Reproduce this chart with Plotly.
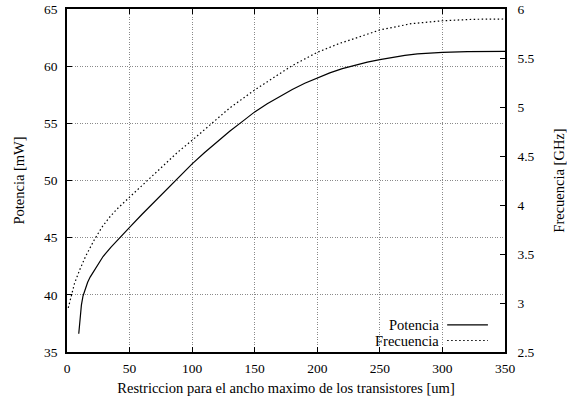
import plotly.graph_objects as go

# Potencia [mW] vs restriction width [um]
x_pot = [9.4, 10, 10.7, 11.5, 12.8, 14.5, 16.5, 18.5, 20.8, 24.5, 28.8, 35,
         40, 50, 60, 70, 80, 90, 100, 110, 120, 130, 140, 150, 160, 170, 180,
         190, 200, 210, 220, 230, 240, 250, 260, 270, 280, 290, 300, 320, 350]
pot = [36.6, 37.5, 38.4, 39.1, 39.9, 40.55, 41.1, 41.55, 41.95, 42.62, 43.35,
       44.15, 44.75, 45.9, 47.05, 48.15, 49.25, 50.35, 51.45, 52.45, 53.4,
       54.3, 55.15, 56.0, 56.71, 57.37, 57.96, 58.5, 58.99, 59.41, 59.78,
       60.1, 60.36, 60.58, 60.79, 60.95, 61.07, 61.15, 61.21, 61.27, 61.3]

# Frecuencia [GHz] vs restriction width [um]
x_freq = [1, 3.5, 6, 10.2, 15, 21.6, 28, 34, 40, 50, 64, 75, 89, 100, 115.5,
          130, 150, 165, 179.5, 200, 218, 230, 250, 275, 300, 325, 350]
freq = [2.95, 3.08, 3.2, 3.34, 3.48, 3.64, 3.775, 3.875, 3.96, 4.08, 4.249,
        4.38, 4.545, 4.66, 4.834, 4.99, 5.174, 5.30, 5.419, 5.558, 5.65, 5.70,
        5.786, 5.85, 5.88, 5.895, 5.898]

x_ticks = [0, 50, 100, 150, 200, 250, 300, 350]
y_ticks = [35, 40, 45, 50, 55, 60, 65]
y2_ticks = [2.5, 3, 3.5, 4, 4.5, 5, 5.5, 6]
y2_labels = ["2.5", "3", "3.5", "4", "4.5", "5", "5.5", "6"]

FONT = "Liberation Serif, Times New Roman, serif"
FS_TICK = 13.5
FS = 14.5

fig = go.Figure()
fig.add_trace(go.Scatter(x=x_pot, y=pot, mode="lines", name="Potencia",
                         line=dict(color="black", width=1.2),
                         showlegend=False))
fig.add_trace(go.Scatter(x=x_freq, y=freq, mode="lines", name="Frecuencia",
                         yaxis="y2",
                         line=dict(color="black", width=1.2, dash="1.5px,2.5px"),
                         showlegend=False))

grid = dict(showgrid=True, gridcolor="#8a8a8a", griddash="1px,1.5px", gridwidth=1)

fig.update_layout(
    width=567, height=403,
    margin=dict(l=67, r=62, t=9, b=51),
    paper_bgcolor="white", plot_bgcolor="white",
    font=dict(family=FONT, size=FS_TICK, color="black"),
    xaxis=dict(range=[0, 350], tickvals=x_ticks, ticks="inside", ticklen=5,
               tickcolor="black", showline=True, linecolor="black",
               linewidth=1.5, mirror="ticks", zeroline=False, automargin=False,
               title=dict(text="Restriccion para el ancho maximo de los transistores [um]",
                          standoff=8, font=dict(size=FS)),
               ticklabelstandoff=3, **grid),
    yaxis=dict(range=[35, 65], tickvals=y_ticks, ticks="inside", ticklen=5,
               tickcolor="black", showline=True, linecolor="black",
               linewidth=1.5, zeroline=False, automargin=False,
               title=dict(text="Potencia [mW]", standoff=16, font=dict(size=FS)),
               ticklabelstandoff=5, **grid),
    yaxis2=dict(range=[2.5, 6], tickvals=y2_ticks, ticktext=y2_labels,
                overlaying="y", side="right", ticks="inside", ticklen=5,
                tickcolor="black", showline=True, linecolor="black",
                linewidth=1.5, showgrid=False, zeroline=False, automargin=False,
                title=dict(text="Frecuencia [GHz]", standoff=35, font=dict(size=FS)),
                ticklabelstandoff=8),
)

# gnuplot-style key: opaque box, text right-aligned, sample to the right
fig.add_shape(type="rect", xref="paper", yref="paper", x0=0.69, x1=0.98,
              y0=0.0, y1=0.105, fillcolor="white", line=dict(width=0),
              layer="between")
fig.add_annotation(xref="paper", yref="paper", x=0.853, y=0.079, text="Potencia",
                   showarrow=False, xanchor="right", yanchor="middle",
                   font=dict(size=FS))
fig.add_annotation(xref="paper", yref="paper", x=0.853, y=0.033, text="Frecuencia",
                   showarrow=False, xanchor="right", yanchor="middle",
                   font=dict(size=FS))
fig.add_shape(type="line", xref="paper", yref="paper", x0=0.868, x1=0.961,
              y0=0.079, y1=0.079, line=dict(color="black", width=1.2))
fig.add_shape(type="line", xref="paper", yref="paper", x0=0.868, x1=0.961,
              y0=0.0335, y1=0.0335, line=dict(color="black", width=1.2,
                                              dash="1.5px,2.5px"))

fig.write_html("out.html")
